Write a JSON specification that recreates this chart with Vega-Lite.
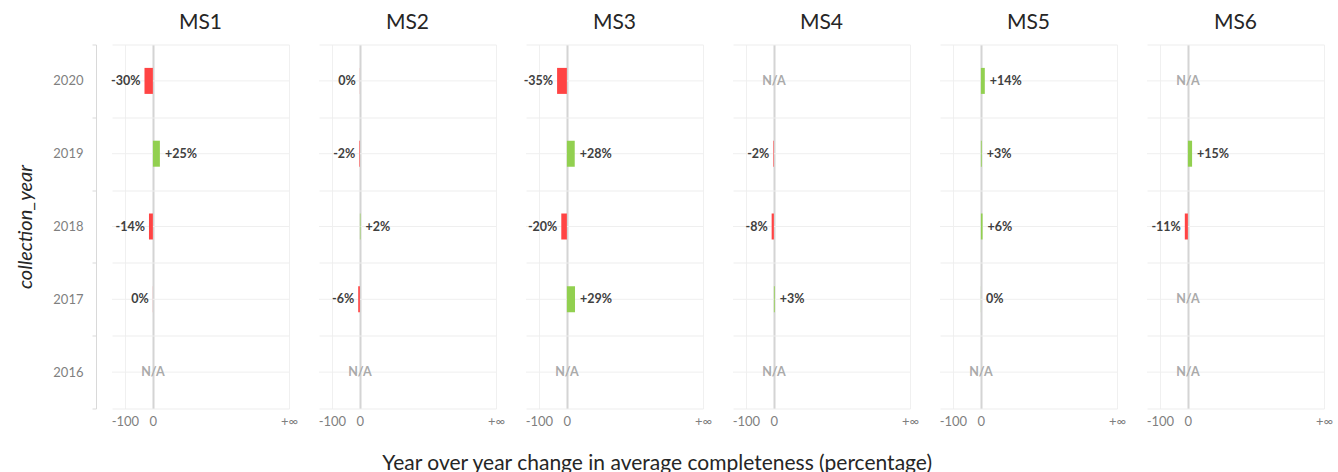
{
  "$schema": "https://vega.github.io/schema/vega-lite/v6.json",
  "padding": {"left": 15, "top": 11.5, "right": 5, "bottom": 0},
  "data": {"values": [
    {"ms": "MS1", "year": 2020, "value": -30, "label": "-30%"},
    {"ms": "MS1", "year": 2019, "value": 25, "label": "+25%"},
    {"ms": "MS1", "year": 2018, "value": -14, "label": "-14%"},
    {"ms": "MS1", "year": 2017, "value": -0.3, "label": "0%"},
    {"ms": "MS1", "year": 2016, "value": null, "label": "N/A"},
    {"ms": "MS2", "year": 2020, "value": -0.3, "label": "0%"},
    {"ms": "MS2", "year": 2019, "value": -2, "label": "-2%"},
    {"ms": "MS2", "year": 2018, "value": 2, "label": "+2%"},
    {"ms": "MS2", "year": 2017, "value": -6, "label": "-6%"},
    {"ms": "MS2", "year": 2016, "value": null, "label": "N/A"},
    {"ms": "MS3", "year": 2020, "value": -35, "label": "-35%"},
    {"ms": "MS3", "year": 2019, "value": 28, "label": "+28%"},
    {"ms": "MS3", "year": 2018, "value": -20, "label": "-20%"},
    {"ms": "MS3", "year": 2017, "value": 29, "label": "+29%"},
    {"ms": "MS3", "year": 2016, "value": null, "label": "N/A"},
    {"ms": "MS4", "year": 2020, "value": null, "label": "N/A"},
    {"ms": "MS4", "year": 2019, "value": -2, "label": "-2%"},
    {"ms": "MS4", "year": 2018, "value": -8, "label": "-8%"},
    {"ms": "MS4", "year": 2017, "value": 3, "label": "+3%"},
    {"ms": "MS4", "year": 2016, "value": null, "label": "N/A"},
    {"ms": "MS5", "year": 2020, "value": 14, "label": "+14%"},
    {"ms": "MS5", "year": 2019, "value": 3, "label": "+3%"},
    {"ms": "MS5", "year": 2018, "value": 6, "label": "+6%"},
    {"ms": "MS5", "year": 2017, "value": 0.3, "label": "0%"},
    {"ms": "MS5", "year": 2016, "value": null, "label": "N/A"},
    {"ms": "MS6", "year": 2020, "value": null, "label": "N/A"},
    {"ms": "MS6", "year": 2019, "value": 15, "label": "+15%"},
    {"ms": "MS6", "year": 2018, "value": -11, "label": "-11%"},
    {"ms": "MS6", "year": 2017, "value": null, "label": "N/A"},
    {"ms": "MS6", "year": 2016, "value": null, "label": "N/A"}
  ]},
  "facet": {"column": {"field": "ms", "type": "nominal", "header": {"title": null, "labelFontSize": 21, "labelColor": "#262626", "labelPadding": 11.5, "labelFont": "Lato"}}},
  "spacing": 30,
  "bounds": "flush",
  "spec": {
    "width": 177,
    "height": 364,
    "layer": [
      {
        "mark": {"type": "rule", "color": "#efefef", "strokeWidth": 1},
        "encoding": {
          "y": {"field": "year", "type": "ordinal", "sort": "descending",
            "scale": {"paddingInner": 0, "paddingOuter": 0},
            "axis": {"title": "collection_year", "tickBand": "extent",
              "offset": 16, "domainColor": "#d9d9d9", "tickColor": "#d9d9d9",
              "tickSize": 4, "labelPadding": 9, "labelColor": "#7f7f7f", "labelFontSize": 13,
              "gridColor": "#ededed", "grid": true,
              "titleFontStyle": "italic", "titleFontWeight": "normal", "titleFontSize": 20,
              "titleColor": "#262626", "titlePadding": 17}}
        }
      },
      {
        "transform": [{"filter": "isValid(datum.value)"}],
        "mark": {"type": "bar", "orient": "horizontal", "size": 26},
        "encoding": {
          "x": {"field": "value", "type": "quantitative",
            "scale": {"domain": [-146, 486], "nice": false, "zero": false},
            "axis": {"title": null, "values": [-100, 0, 486],
              "labelExpr": "datum.value > 400 ? '+∞' : toString(datum.value)",
              "labelFlush": false, "labelOverlap": false, "ticks": false, "domain": false,
              "labelColor": "#7f7f7f", "labelFontSize": 13, "labelPadding": 7,
              "gridColor": {"condition": {"test": "datum.value === 0", "value": "#d4d4d4"}, "value": "#f0f0f0"},
              "gridWidth": {"condition": {"test": "datum.value === 0", "value": 2}, "value": 1}}},
          "y": {"field": "year", "type": "ordinal", "sort": "descending"},
          "color": {"condition": {"test": "datum.value < 0", "value": "#FF4444"}, "value": "#92D050"}
        }
      },
      {
        "transform": [{"filter": "isValid(datum.value) && datum.value < 0"}],
        "mark": {"type": "text", "align": "right", "baseline": "middle", "dx": -4, "fontWeight": "bold", "fontSize": 12.5, "color": "#404040"},
        "encoding": {
          "x": {"field": "value", "type": "quantitative"},
          "y": {"field": "year", "type": "ordinal", "sort": "descending"},
          "text": {"field": "label"}
        }
      },
      {
        "transform": [{"filter": "isValid(datum.value) && datum.value >= 0"}],
        "mark": {"type": "text", "align": "left", "baseline": "middle", "dx": 5, "fontWeight": "bold", "fontSize": 12.5, "color": "#404040"},
        "encoding": {
          "x": {"field": "value", "type": "quantitative"},
          "y": {"field": "year", "type": "ordinal", "sort": "descending"},
          "text": {"field": "label"}
        }
      },
      {
        "transform": [{"filter": "!isValid(datum.value)"}],
        "mark": {"type": "text", "align": "center", "baseline": "middle", "fontWeight": "bold", "fontSize": 12.5, "color": "#aaaaaa"},
        "encoding": {
          "x": {"datum": 0, "type": "quantitative"},
          "y": {"field": "year", "type": "ordinal", "sort": "descending"},
          "text": {"field": "label"}
        }
      }
    ]
  },
  "title": {"text": "Year over year change in average completeness (percentage)", "orient": "bottom", "anchor": "middle", "fontSize": 21, "fontWeight": "normal", "color": "#262626", "offset": 24, "dx": -17, "font": "Lato"},
  "config": {"view": {"stroke": null}, "font": "Lato"}
}
